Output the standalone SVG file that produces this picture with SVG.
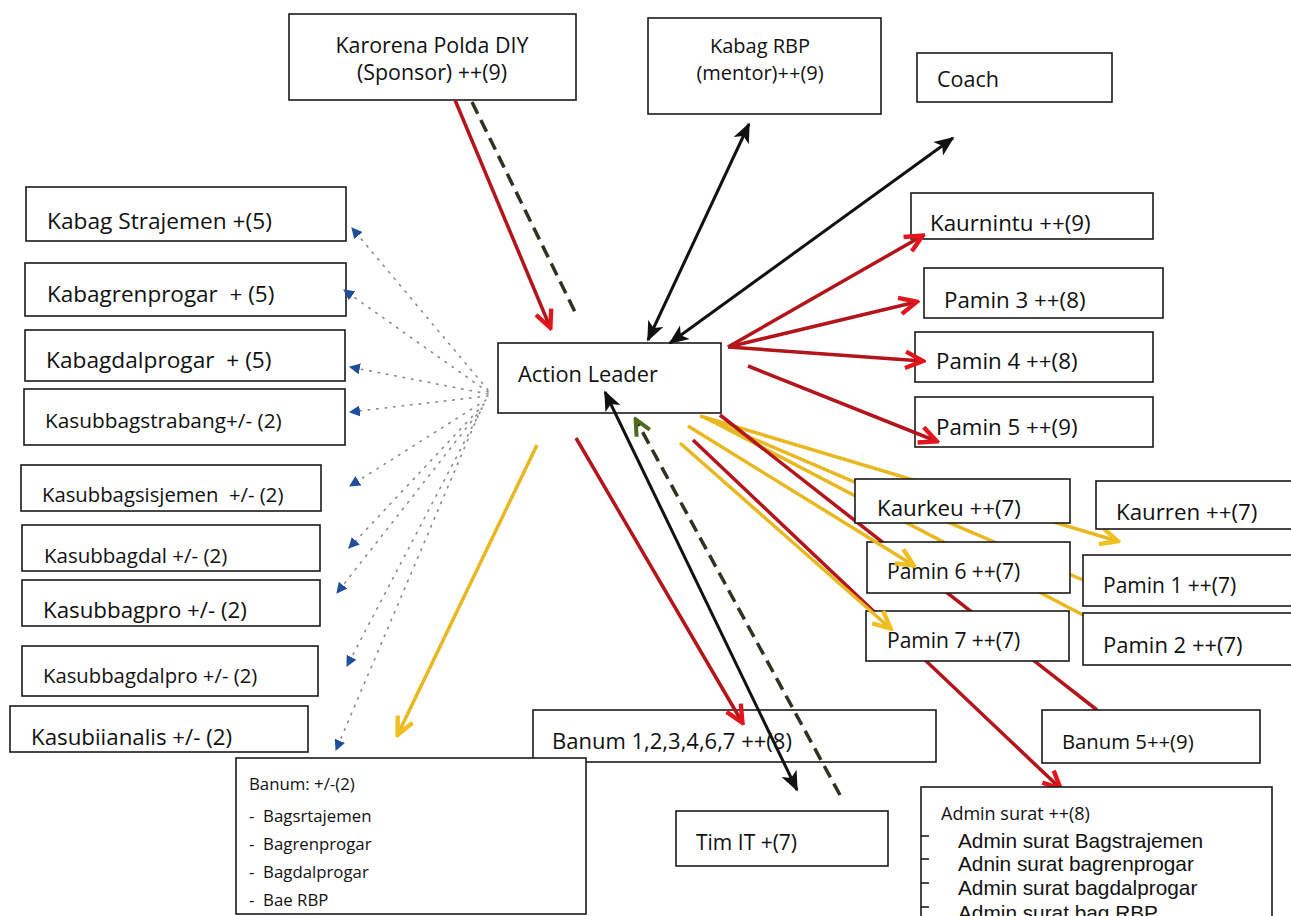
<svg xmlns="http://www.w3.org/2000/svg" width="1291" height="916" viewBox="0 0 1291 916">
<style>
.box{fill:#fff;stroke:#1a1a1a;stroke-width:1.6}
.t{font-family:"Open Sans",Lato,sans-serif;fill:#111}
.a{font-family:"Liberation Sans",Arial,sans-serif;fill:#111;font-size:20.8px}
.red{stroke:#b3151b;stroke-width:3.5;fill:none}
.blk{stroke:#111;stroke-width:3;fill:none}
.yel{stroke:#e9b820;stroke-width:3.5;fill:none}
.dash{stroke:#2b3520;stroke-width:3.5;fill:none;stroke-dasharray:13 7}
.dot{stroke:#8a8a8a;stroke-width:1.6;fill:none;stroke-dasharray:1.5 7;stroke-linecap:round}
</style>
<defs>
<marker id="mr" viewBox="0 0 12 12" markerWidth="22" markerHeight="22" refX="10" refY="6" orient="auto" markerUnits="userSpaceOnUse"><path d="M1,1.5 L10.5,6 L1,10.5" fill="none" stroke="#e3141b" stroke-width="2.4"/></marker>
<marker id="my" viewBox="0 0 12 12" markerWidth="22" markerHeight="22" refX="10" refY="6" orient="auto" markerUnits="userSpaceOnUse"><path d="M1,1.5 L10.5,6 L1,10.5" fill="none" stroke="#f0c020" stroke-width="2.4"/></marker>
<marker id="mk" viewBox="0 0 12 12" markerWidth="20" markerHeight="20" refX="11" refY="6" orient="auto-start-reverse" markerUnits="userSpaceOnUse"><path d="M0,1 L12,6 L0,11 L3,6 z" fill="#111"/></marker>
<marker id="mg" viewBox="0 0 12 12" markerWidth="20" markerHeight="20" refX="10" refY="6" orient="auto" markerUnits="userSpaceOnUse"><path d="M1,1.5 L10.5,6 L1,10.5" fill="none" stroke="#4d6b1e" stroke-width="2.4"/></marker>
<marker id="mb" viewBox="0 0 10 10" markerWidth="11" markerHeight="11" refX="9" refY="5" orient="auto" markerUnits="userSpaceOnUse"><path d="M0,0 L10,5 L0,10 z" fill="#1f4f9a"/></marker>
</defs>
<rect width="1291" height="916" fill="#fff"/>

<g id="connectors-back">
<path class="yel" d="M700,416 L1117,541" marker-end="url(#my)"/>
<path class="yel" d="M705,418 L1083,580"/>
<path class="yel" d="M710,420 L1083,615"/>
<path class="red" d="M720,415 L1097,710"/>
<path class="red" d="M693,440 L1060,788" marker-end="url(#mr)"/>
</g>

<g id="n-karorena"><rect class="box" x="289" y="14" width="287" height="86"/><text class="t" x="432" y="53" text-anchor="middle" font-size="21.4">Karorena Polda DIY</text><text class="t" x="432" y="80" text-anchor="middle" font-size="21.4">(Sponsor) ++(9)</text></g>
<g id="n-kabagrbp"><rect class="box" x="648" y="18" width="233" height="96"/><text class="t" x="760" y="53" text-anchor="middle" font-size="20">Kabag RBP</text><text class="t" x="760" y="80" text-anchor="middle" font-size="20">(mentor)++(9)</text></g>
<g id="n-coach"><rect class="box" x="917" y="53" width="195" height="49"/><text class="t" x="937" y="87" font-size="21.5">Coach</text></g>

<g id="n-strajemen"><rect class="box" x="26" y="187" width="320" height="54"/><text class="t" x="47" y="229" font-size="22.7">Kabag Strajemen +(5)</text></g>
<g id="n-renprogar"><rect class="box" x="25" y="263" width="321" height="53"/><text class="t" x="47" y="302" font-size="22.5" xml:space="preserve">Kabagrenprogar  + (5)</text></g>
<g id="n-dalprogar"><rect class="box" x="25" y="330" width="320" height="51"/><text class="t" x="46" y="368" font-size="22.7" xml:space="preserve">Kabagdalprogar  + (5)</text></g>
<g id="n-strabang"><rect class="box" x="24" y="389" width="321" height="56"/><text class="t" x="45" y="428" font-size="20.8">Kasubbagstrabang+/- (2)</text></g>
<g id="n-sisjemen"><rect class="box" x="21" y="465" width="300" height="46"/><text class="t" x="42" y="502" font-size="20.3" xml:space="preserve">Kasubbagsisjemen  +/- (2)</text></g>
<g id="n-kasubdal"><rect class="box" x="22" y="525" width="298" height="46"/><text class="t" x="44" y="563" font-size="20.5">Kasubbagdal +/- (2)</text></g>
<g id="n-kasubpro"><rect class="box" x="22" y="580" width="298" height="46"/><text class="t" x="43" y="618" font-size="22.3">Kasubbagpro +/- (2)</text></g>
<g id="n-kasubdalpro"><rect class="box" x="22" y="646" width="296" height="50"/><text class="t" x="43" y="683" font-size="20.3">Kasubbagdalpro +/- (2)</text></g>
<g id="n-analis"><rect class="box" x="10" y="706" width="298" height="46"/><text class="t" x="31" y="745" font-size="22.3">Kasubiianalis +/- (2)</text></g>

<g id="n-action"><rect class="box" x="498" y="343" width="223" height="70"/><text class="t" x="518" y="382" font-size="21.8">Action Leader</text></g>

<g id="n-kaurnintu"><rect class="box" x="911" y="193" width="242" height="46"/><text class="t" x="930" y="231" font-size="22.3">Kaurnintu ++(9)</text></g>
<g id="n-pamin3"><rect class="box" x="924" y="268" width="239" height="50"/><text class="t" x="944" y="308" font-size="22.3">Pamin 3 ++(8)</text></g>
<g id="n-pamin4"><rect class="box" x="915" y="332" width="238" height="50"/><text class="t" x="936" y="369" font-size="22.3">Pamin 4 ++(8)</text></g>
<g id="n-pamin5"><rect class="box" x="915" y="397" width="238" height="50"/><text class="t" x="936" y="435" font-size="22.3">Pamin 5 ++(9)</text></g>

<g id="n-kaurkeu"><rect class="box" x="855" y="479" width="215" height="44"/><text class="t" x="877" y="516" font-size="22.3">Kaurkeu ++(7)</text></g>
<g id="n-kaurren"><rect class="box" x="1096" y="481" width="210" height="48"/><text class="t" x="1116" y="520" font-size="22.3">Kaurren ++(7)</text></g>
<g id="n-pamin6"><rect class="box" x="867" y="542" width="203" height="51"/><text class="t" x="887" y="579" font-size="21">Pamin 6 ++(7)</text></g>
<g id="n-pamin1"><rect class="box" x="1083" y="555" width="222" height="51"/><text class="t" x="1103" y="593" font-size="21">Pamin 1 ++(7)</text></g>
<g id="n-pamin7"><rect class="box" x="866" y="611" width="203" height="50"/><text class="t" x="887" y="648" font-size="21">Pamin 7 ++(7)</text></g>
<g id="n-pamin2"><rect class="box" x="1083" y="613" width="222" height="52"/><text class="t" x="1103" y="653" font-size="22">Pamin 2 ++(7)</text></g>

<g id="n-banum1"><rect class="box" x="533" y="710" width="403" height="52"/><text class="t" x="552" y="749" font-size="22">Banum 1,2,3,4,6,7 ++(8)</text></g>
<g id="n-banum5"><rect class="box" x="1042" y="710" width="218" height="53"/><text class="t" x="1062" y="749" font-size="20.3">Banum 5++(9)</text></g>
<g id="n-banumlist"><rect class="box" x="236" y="758" width="350" height="156"/>
<text class="t" x="249" y="790" font-size="16.8">Banum: +/-(2)</text>
<text class="t" x="249" y="822" font-size="16.8" xml:space="preserve">-  Bagsrtajemen</text>
<text class="t" x="249" y="850" font-size="16.8" xml:space="preserve">-  Bagrenprogar</text>
<text class="t" x="249" y="878" font-size="16.8" xml:space="preserve">-  Bagdalprogar</text>
<text class="t" x="249" y="906" font-size="16.8" xml:space="preserve">-  Bae RBP</text></g>
<g id="n-timit"><rect class="box" x="676" y="811" width="212" height="55"/><text class="t" x="696" y="850" font-size="21">Tim IT +(7)</text></g>
<g id="n-admin"><rect class="box" x="921" y="787" width="351" height="140"/>
<text class="t" x="941" y="820" font-size="18">Admin surat ++(8)</text>
<text class="a" x="958" y="848">Admin surat Bagstrajemen</text>
<text class="a" x="958" y="871">Adnin surat bagrenprogar</text>
<text class="a" x="958" y="895">Admin surat bagdalprogar</text>
<text class="a" x="958" y="920">Admin surat bag RBP</text>
<path d="M921,836 h8 M921,859 h8 M921,883 h8 M921,907 h8" stroke="#111" stroke-width="1.6"/></g>

<g id="connectors">
<path class="dot" d="M488,390 L352,228" marker-end="url(#mb)"/>
<path class="dot" d="M488,392 L344,290" marker-end="url(#mb)"/>
<path class="dot" d="M488,394 L350,367" marker-end="url(#mb)"/>
<path class="dot" d="M488,396 L350,412" marker-end="url(#mb)"/>
<path class="dot" d="M486,400 L350,486" marker-end="url(#mb)"/>
<path class="dot" d="M484,404 L349,548" marker-end="url(#mb)"/>
<path class="dot" d="M482,408 L337,593" marker-end="url(#mb)"/>
<path class="dot" d="M480,412 L347,666" marker-end="url(#mb)"/>
<path class="dot" d="M478,416 L336,750" marker-end="url(#mb)"/>

<path class="red" d="M455,100 L550,327" marker-end="url(#mr)"/>
<path class="dash" d="M472,102 L577,316"/>
<path class="blk" d="M648,340 L749,124" marker-start="url(#mk)" marker-end="url(#mk)"/>
<path class="blk" d="M670,343 L953,138" marker-start="url(#mk)" marker-end="url(#mk)"/>

<path class="red" d="M728,347 L922,236" marker-end="url(#mr)"/>
<path class="red" d="M728,347 L916,302" marker-end="url(#mr)"/>
<path class="red" d="M728,347 L922,361" marker-end="url(#mr)"/>
<path class="red" d="M748,366 L936,441" marker-end="url(#mr)"/>

<path class="yel" d="M537,445 L398,734" marker-end="url(#my)"/>
<path class="red" d="M576,438 L742,722" marker-end="url(#mr)"/>
<path class="blk" d="M605,392 L797,790" marker-start="url(#mk)" marker-end="url(#mk)"/>
<path class="dash" d="M840,795 L636,420" marker-end="url(#mg)"/>

<path class="yel" d="M688,426 L913,565" marker-end="url(#my)"/>
<path class="yel" d="M680,443 L890,628" marker-end="url(#my)"/>
</g>
</svg>
